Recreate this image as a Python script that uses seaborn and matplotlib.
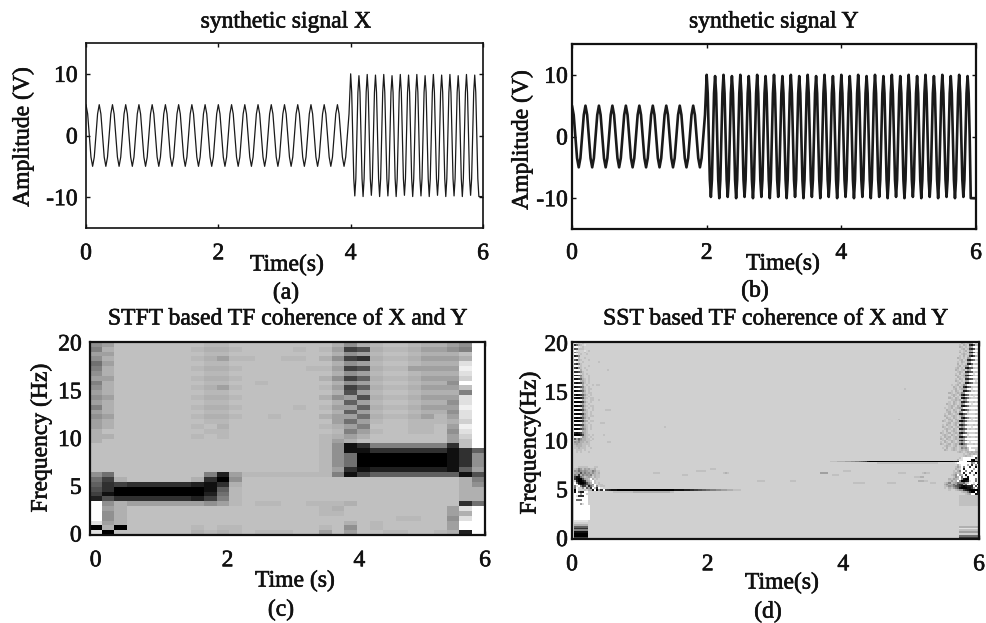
import numpy as np
import pandas as pd
import matplotlib
matplotlib.use("Agg")
import matplotlib.pyplot as plt
import matplotlib.patheffects as pe
import matplotlib.text as mtext
import seaborn as sns

# ---------- values ----------
x_split = [0.0, 4.0, 6.0]
y_split = [0.0, 2.0, 6.0]

x_low = [
5,3.5,0,-3.5,-5,-3.5,0,3.5, 5,3.5,0,-3.5,-5,-3.5,0,3.5, 5,3.5,0,-3.5,-5,-3.5,0,3.5, 5,3.5,0,-3.5,-5,-3.5,0,3.5,
5,3.5,0,-3.5,-5,-3.5,0,3.5, 5,3.5,0,-3.5,-5,-3.5,0,3.5, 5,3.5,0,-3.5,-5,-3.5,0,3.5, 5,3.5,0,-3.5,-5,-3.5,0,3.5,
5,3.5,0,-3.5,-5,-3.5,0,3.5, 5,3.5,0,-3.5,-5,-3.5,0,3.5, 5,3.5,0,-3.5,-5,-3.5,0,3.5, 5,3.5,0,-3.5,-5,-3.5,0,3.5,
5,3.5,0,-3.5,-5,-3.5,0,3.5, 5,3.5,0,-3.5,-5,-3.5,0,3.5, 5,3.5,0,-3.5,-5,-3.5,0,3.5, 5,3.5,0,-3.5,-5,-3.5,0,3.5,
5,3.5,0,-3.5,-5,-3.5,0,3.5, 5,3.5,0,-3.5,-5,-3.5,0,3.5, 5,3.5,0,-3.5,-5,-3.5,0,3.5, 5,3.5,0,-3.5,-5,-3.5,0,3.5,
]
x_high = [
10,7,0,-7,-9.8,-7,0,7, 9.7,7,0,-7,-9.9,-7,0,7, 9.9,7,0,-7,-9.7,-7,0,7, 9.8,7,0,-7,-9.9,-7,0,7,
9.9,7,0,-7,-9.8,-7,0,7, 9.7,7,0,-7,-9.9,-7,0,7, 9.9,7,0,-7,-9.7,-7,0,7, 9.8,7,0,-7,-9.9,-7,0,7,
9.9,7,0,-7,-9.8,-7,0,7, 9.7,7,0,-7,-9.9,-7,0,7, 9.9,7,0,-7,-9.7,-7,0,7, 9.8,7,0,-7,-9.9,-7,0,7,
9.9,7,0,-7,-9.8,-7,0,7, 9.7,7,0,-7,-9.9,-7,0,7, 9.9,7,0,-7,-9.7,-7,0,7, 9.8,7,0,-7,-9.9,-9.9,-9.9,-9.9,
]
y_low = [
5,3.5,0,-3.5,-5,-3.5,0,3.5, 5,3.5,0,-3.5,-5,-3.5,0,3.5, 5,3.5,0,-3.5,-5,-3.5,0,3.5, 5,3.5,0,-3.5,-5,-3.5,0,3.5,
5,3.5,0,-3.5,-5,-3.5,0,3.5, 5,3.5,0,-3.5,-5,-3.5,0,3.5, 5,3.5,0,-3.5,-5,-3.5,0,3.5, 5,3.5,0,-3.5,-5,-3.5,0,3.5,
5,3.5,0,-3.5,-5,-3.5,0,3.5, 5,3.5,0,-3.5,-5,-3.5,0,3.5,
]
y_high = [
10,7,0,-7,-9.8,-7,0,7, 9.8,7,0,-7,-10,-7,0,7, 10,7,0,-7,-9.8,-7,0,7, 9.8,7,0,-7,-10,-7,0,7,
10,7,0,-7,-9.8,-7,0,7, 9.8,7,0,-7,-10,-7,0,7, 10,7,0,-7,-9.8,-7,0,7, 9.8,7,0,-7,-10,-7,0,7,
10,7,0,-7,-9.8,-7,0,7, 9.8,7,0,-7,-10,-7,0,7, 10,7,0,-7,-9.8,-7,0,7, 9.8,7,0,-7,-10,-7,0,7,
10,7,0,-7,-9.8,-7,0,7, 9.8,7,0,-7,-10,-7,0,7, 10,7,0,-7,-9.8,-7,0,7, 9.8,7,0,-7,-10,-7,0,7,
10,7,0,-7,-9.8,-7,0,7, 9.8,7,0,-7,-10,-7,0,7, 10,7,0,-7,-9.8,-7,0,7, 9.8,7,0,-7,-10,-7,0,7,
10,7,0,-7,-9.8,-7,0,7, 9.8,7,0,-7,-10,-7,0,7, 10,7,0,-7,-9.8,-7,0,7, 9.8,7,0,-7,-10,-7,0,7,
10,7,0,-7,-9.8,-7,0,7, 9.8,7,0,-7,-10,-7,0,7, 10,7,0,-7,-9.8,-7,0,7, 9.8,7,0,-7,-10,-7,0,7,
10,7,0,-7,-9.8,-7,0,7, 9.8,7,0,-7,-10,-7,0,7, 10,7,0,-7,-9.8,-7,0,7, 9.8,7,0,-10,-10,-10,-10,-10,
]

# gray levels 0 (black) .. g (white), x is a faint step under the background c
stft_columns = [
"98a9789a89 a9a8a9aabb bcccccc976 542gggge0e",
"abababbabb babbbabbcb ccccccc743 3159a99ab0",
"cccccccccc cccccccccc ccccccccb4 003bbbbb0c",
"cccccccccc cccccccccc ccccccccc3 003acccccc",
"cccccccccc cccccccccc ccccccccc3 003acccccc",
"cccccccccc cccccccccc ccccccccc3 003acccccc",
"cccccccccc cccccccccc ccccccccc3 003acccccc",
"cccccccccc cccccccccc ccccccccc3 003acccccc",
"cxcxcxcxcx cxcxcxcxcx ccccccccb2 002accccxb",
"xbxbxbxbxb xbxbxbxcxc ccccccc831 1249cccccx",
"xbxaxbxbxa xbxbxbxbxx ccccccc203 678accccxb",
"cxcxcxcxcx cxcxcxcccc ccccccca9b xxxxccccxx",
"cccxcccccc cccccccccc cccccccxcc cccccccccc",
"ccccccccxc cccccccccc cccccccxcc cccxcccccx",
"cccccccccc cccccxcccc cccccccxcc cccxcccccx",
"cccxcccccc cccccccccc cccccccxcc cccccccccx",
"cxcxcccccc cccxcccccc cccccccxcc cccccccccc",
"cccccxcccc cccccccccc cccccccxcc cccxcccccc",
"cxcbcxcbcx cbcxcbcxcx xxxxxxxxcc cccxxxccxa",
"bab9bab9ba b9babaabxb a99999a8cc cccxbxcccc",
"9494949494 5a6a6a7a8a b1177731cc cccbcccb9a",
"b5a3a5a6a6 a5a6a7a8ab c3100014cc cccccccccc",
"xbxbxbxbxb xbxbxbxcxc c8300026cc cccccccxxc",
"cxcxcxcxcx cxcxcxcccc c8300026cc cccccccccx",
"cxcxcxcxcx cxcxcxcccc c8300026cc ccccccxccx",
"xbxbxaxbxb xbxbxbxxxc c8300026cc ccccccxccc",
"babababa ba bababaxxxc c8300026cc cccccccccc",
"babababa ba bababxxccc c8300026cc cccccccccx",
"a9bababa9a ba9a9aba9a a3111116cc ccccaa9aab",
"98cbefedgc 8eefeedfed cc333361bb bbb3ebegg2",
"gggggggggg gggggggggg gg6999a589 bbb7gggggg",
]

# SST panel: background level, then cells that differ from it
sst_background = "d"
sst_left_rows = [  # top row first, starting at the left edge
"dgeddcd","d37bcde","dggedcddd","d56cccdd","dgedddedc","d7acddc","dgfdcddc","d249dddd",
"dggcddcdd","d64bcdddc","dgfddcdd","d538cdd","dggecdddc","d429cdcd","dggfbddcd","d3359cdd",
"dgggdcdcdd","d2248cddc","dggfacddcd","d1136bcdcd","dgggcbcdcd","d21249cdc","dgggfbdcddc","d12358cdcd",
"dgggdacdcc","d01247bdcd","dgggfbcdccd","d20136acdcdd","dgggeacdcd","d10025bcdcc","dgggfbcddccd","d00014acdc",
"dgggdacdcd","d00126bcdccd","dggge9cdcdc","d00025acddc","dgggfbccdcd","d10014acdcd","dgggd9bcdcc","d10126acbdd",
"dgggeacdcd","d00024abdcc","dgggfbcdcd","d11135bcdc","dgggdabcdcd","d00147acdc","dgggfbbcdd","d21249bcdd",
"d00025bccdc","dgggeabcdcd","d5a69bbccdc","dcb8abbcccd","d9a9bbcbcdd","dbabbccccd","dcbbbccdcd","dccbcccddc",
"ddcccdcdd","ddcdcdddc","","","","","","",
"","dddcccccdddcc","dcb8acabaccb","d9a79a9abb8acc","dbaa5a8a9b9bcb","d8a3b8a9a8cbcc","d4117acbabdbcc","d31005abcgbdcd",
"dd20013abdgcd","dg7100159bgcdc","dgg511357a9gdcc","d8eg834b27bg9dcc","d7gdd9e6a3gc3ge","d0gdddcdbb1g0a3g4",
"d1g622ggd","dgggaggd","dge333gg","dgggggggd","dg777ggg","dggggggg","dgggaeggd",
"dgggggggg","dgggggggg","dgggggggg","dgggggggg","dgggggggg","dgggggggg","dgggggggg","dgggggggg",
"deeeeeee","dddddddd","dbbbbbbb","d6666666","d3333333","d8888888","d1111111","d0000000","d0000000","d4444444",
]
sst_right_rows = [  # top row first, last character sits at the right edge
"dbcdcabgeg","cdbcd315cd","bcdcd9bggg","dcbdc425dd","cdcbdabggg","bdcdc316dc","dcbcdabgge","cdbdc415cd",
"bcdcdabgggg","dcbdc3257dd","cdbcdabgggg","bdcdc216dcd","dcbdcaageggg","cbdcd3156cdd","bcdcbdabgggg","dcbcd3256dcd",
"cdbdcabggegg","bcdcb3147cdd","dbcdc9bggggg","cdbcd3256cdd","bcdcdabgggeg","dcbdc2157dcd","cdcbdc9bgggggg","bcdbc3157cddd",
"dcbdcbabggeggg","cdbcdc2258dcdd","bcdcbc9aggggggg","dcbcdb3157dcddc","cdbdcdbbggggegg","bcdbcd2147cdddc","dcbcbdabgggggg","cdbcdc3258ddcdc",
"bcdbcdc9bgggeggg","dcbcdbc2147cdddc","cdcbdcbabgggggggg","bcdbcdc3258cddcd","dcbdcbdabggeggggg","cdbcdcb2157cdddcd","bcdcbcdc9bggggggg","dbcdbcdc3158cddcd",
"cdbcdbcdabgggeggg","bcdcbdcb2147cdddcd","dcbdcbcdabggggggg","cdbcdcbd3258cddcdc","bcdcbdcbc9bgggeggg","dcbcdbcd2257dcddcd","cdbdcbcdcabggggggg","bcdcbdcbc3157cdddcd",
"dcbcdbcdc9bggeggggg","cdbcbdcbc2158dcddcd","bcdbcdcbcbabggggggg","dcbdcbcdc4268cdddcd","cdbcdbcdcb9bggegggg","bcdcbdcbc6279cddcdd","dcbcdcbdcbbcgggggg","cdbdcbcdc8a9cgdddd",
"bcdcbcdcbcbcgggdd","ddcbcdcbcbcbb","dcdcbcbcc","ddcbcceggc","cegggggg3a","beegggg10bb","gggggggg101002","deggggggg8bg5",
"dbegggbg3g9g","cacg8gg3gg1g","bcdg2ggggbgg","cdb8gg8gg6gge","cbcbg2gg5gg0g","cb9gabg2ggg9gg","c9bg7ge1ggggg","bcabcg8100ggg8g",
"cacbg80012egg7g","cb8cba7886bcggegg","b9ba7a533b7gg8ag0","cb9a8653101222g5g","cdbca861000113ag8","cddcb9942100000","cbb8300g1","dddcbagg12",
"cccccccccc","cccccccccc","cccccccccc","cccccccccc","cccccccccc","cccccccccc","","",
"","","","","","","","",
"bbbbbbbbbb","eeeeeeeeee","cccccccccc","aaaaaaaaaa","dddddddddd","7777777777","4444444444",
]
sst_patches = [  # row, first column, levels
(77, 17, "32111000000000000000000000000000011111222334455667788899aaabbbcccc"),
(78, 20, "ccccccccccbbbbbbbbbbbbbbbbbbcc"),
(62, 127, "cccbbbbaaa99887654100000000000000000000000000000000000000000112"),
(63, 150, "cccccccccccccccccccccccccccccc"),
(68, 40, "ccc"), (69, 54, "ccc"), (67, 61, "ccccc"), (66, 68, "ccc"), (68, 74, "cbc"),
(72, 91, "cccc"), (72, 107, "ccc"), (68, 122, "aaaa"), (69, 128, "ccc"), (67, 133, "cccc"),
(73, 138, "cccccc"), (73, 155, "cccc"), (68, 160, "cccc"), (68, 172, "cbcc"), (73, 176, "ccc"),
(4, 8, "c"), (10, 13, "c"), (14, 17, "c"), (22, 12, "cc"), (30, 13, "c"), (35, 16, "ccc"), (42, 14, "cc"),
(48, 15, "c"), (52, 17, "cc"), (44, 45, "c"), (30, 186, "c"), (24, 163, "c"), (40, 160, "c"),
(70, 168, "cccbb"), (72, 170, "bbbcc"),
]

level_values = {ch: float(i) for i, ch in enumerate("0123456789abcdefg")}
level_values["x"] = 11.5
tick_times = [0, 2, 4, 6]
amp_ticks = [-10, 0, 10]
freq_ticks = [0, 5, 10, 15, 20]

# ---------- theme ----------
sns.set_theme(style="ticks")
plt.rcParams["font.family"] = ["Liberation Serif", "DejaVu Serif"]
plt.rcParams["font.size"] = 17
W, H = 986, 623
fig = plt.figure(figsize=(W / 100, H / 100), dpi=100, facecolor="white")


def new_axes(x0, x1, y0, y1):
    return fig.add_axes([x0 / W, 1 - y1 / H, (x1 - x0) / W, (y1 - y0) / H])


def dress(ax, spine_w, title, title_xy, xlabel, xlabel_xy, ylabel, ylabel_xy, tag, tag_xy, xpad, ypad):
    fs = 17
    for s in ax.spines.values():
        s.set_visible(True)
        s.set_linewidth(spine_w)
        s.set_color("#111111")
    ax.tick_params(axis="both", which="major", direction="in", top=True, right=True, bottom=True, left=True,
                   length=3, width=1.0, color="#111111", labelsize=fs, labelcolor="#111111",
                   labelrotation=0)
    ax.tick_params(axis="x", pad=xpad)
    ax.tick_params(axis="y", pad=ypad)
    kw = dict(ha="center", va="center", fontsize=fs, color="#111111", transform=fig.transFigure)
    fig.text(title_xy[0] / W, 1 - title_xy[1] / H, title, **kw)
    fig.text(tag_xy[0] / W, 1 - tag_xy[1] / H, tag, **kw)
    ax.set_xlabel(xlabel, fontsize=fs, color="#111111", va="center")
    ax.xaxis.set_label_coords(xlabel_xy[0] / W, 1 - xlabel_xy[1] / H, transform=fig.transFigure)
    ax.set_ylabel(ylabel, fontsize=fs, color="#111111", va="center")
    ax.yaxis.set_label_coords(ylabel_xy[0] / W, 1 - ylabel_xy[1] / H, transform=fig.transFigure)


def signal_panel(rect, split, low, high, lw, spine_w, **labels):
    ax = new_axes(*rect)
    t = np.concatenate([np.linspace(split[0], split[1], len(low), endpoint=False),
                        np.linspace(split[1], split[2], len(high), endpoint=False)])
    frame = pd.DataFrame({"Time": t, "Amplitude": list(low) + list(high)})
    sns.lineplot(data=frame, x="Time", y="Amplitude", ax=ax, color="#1a1a1a", linewidth=lw,
                 estimator=None, sort=False)
    ax.set_xlim(0, 6)
    ax.set_ylim(-15, 15)
    ax.set_xticks(tick_times)
    ax.set_yticks(amp_ticks)
    ax.set_yticklabels([str(v) for v in amp_ticks])
    dress(ax, spine_w, **labels)
    return ax


signal_panel((86, 483, 43, 228), x_split, x_low, x_high, 0.9, 1.2,
             title="synthetic signal X", title_xy=(286, 22),
             xlabel="Time(s)", xlabel_xy=(287, 265), ylabel="Amplitude (V)", ylabel_xy=(23, 137),
             tag="(a)", tag_xy=(286, 293), xpad=11, ypad=6)
signal_panel((572, 976, 44, 229), y_split, y_low, y_high, 1.9, 1.6,
             title="synthetic signal Y", title_xy=(774, 22),
             xlabel="Time(s)", xlabel_xy=(783, 264), ylabel="Amplitude (V)", ylabel_xy=(522, 140),
             tag="(b)", tag_xy=(755, 291), xpad=10, ypad=3)

# ---------- STFT panel ----------
stft = np.array([[level_values[ch] for ch in col.replace(" ", "")] for col in stft_columns]).T
ax = new_axes(90, 485, 342, 535)
sns.heatmap(stft, ax=ax, cmap="gray", vmin=0, vmax=16, cbar=False, xticklabels=False, yticklabels=False)
ax.set_xlim(0.09, 31)
ax.set_ylim(40, 0)
ax.set_xticks([0.53, 10.85, 21.17, 31])
ax.set_xticklabels([str(v) for v in tick_times])
ax.set_yticks([39.7 - 1.98 * f for f in freq_ticks])
ax.set_yticklabels([str(v) for v in freq_ticks])
dress(ax, 1.6, title="STFT based TF coherence of X and Y", title_xy=(288, 319),
      xlabel="Time (s)", xlabel_xy=(295, 581), ylabel="Frequency (Hz)", ylabel_xy=(41, 438),
      tag="(c)", tag_xy=(281, 610), xpad=11, ypad=6)

# ---------- SST panel ----------
n_rows, n_cols = 103, 200
sst = np.full((n_rows, n_cols), level_values[sst_background], dtype=float)
for r, s in enumerate(sst_left_rows):
    for c, ch in enumerate(s):
        sst[r, c] = level_values[ch]
for r, s in enumerate(sst_right_rows):
    for c, ch in enumerate(s):
        sst[r, n_cols - len(s) + c] = level_values[ch]
for r, c0, s in sst_patches:
    for c, ch in enumerate(s):
        sst[r, c0 + c] = level_values[ch]
ax = new_axes(572, 979, 342, 539)
sns.heatmap(sst, ax=ax, cmap="gray", vmin=0, vmax=16, cbar=False, xticklabels=False, yticklabels=False)
ax.set_xlim(0, n_cols)
ax.set_ylim(n_rows, 0)
ax.set_xticks([t * n_cols / 6 for t in tick_times])
ax.set_xticklabels([str(v) for v in tick_times])
ax.set_yticks([102.5 - 5.1 * f for f in freq_ticks])
ax.set_yticklabels([str(v) for v in freq_ticks])
dress(ax, 1.6, title="SST based TF coherence of X and Y", title_xy=(776, 319),
      xlabel="Time(s)", xlabel_xy=(782, 583), ylabel="Frequency(Hz)", ylabel_xy=(530, 443),
      tag="(d)", tag_xy=(768, 612), xpad=11, ypad=3)

# the reference's text is heavy from resampling
for t in fig.findobj(mtext.Text):
    t.set_path_effects([pe.withStroke(linewidth=0.45, foreground="#111111")])

fig.savefig("out.png", dpi=100)
